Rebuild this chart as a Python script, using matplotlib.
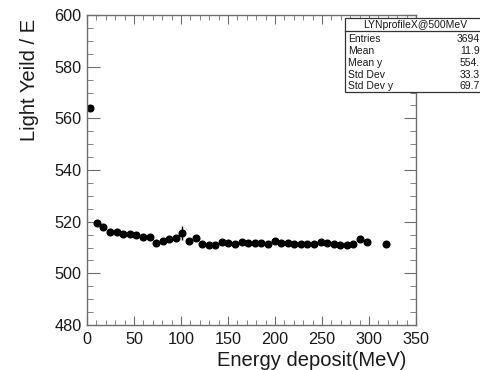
"""
light yield per energy vs deposited energy, profile plot with stats box
"""

import matplotlib

matplotlib.use("Agg")
import matplotlib.pyplot as plt
from matplotlib.patches import Rectangle
from matplotlib.ticker import MultipleLocator

plt.rcParams["font.family"] = ["Liberation Sans", "DejaVu Sans"]

# bin centres (MeV) and mean light yield per bin
energy = [
    3.5, 10.5, 17.5, 24.5, 31.5, 38.5, 45.5, 52.5, 59.5, 66.5,
    73.5, 80.5, 87.5, 94.5, 101.5, 108.5, 115.5, 122.5, 129.5, 136.5,
    143.5, 150.5, 157.5, 164.5, 171.5, 178.5, 185.5, 192.5, 199.5, 206.5,
    213.5, 220.5, 227.5, 234.5, 241.5, 248.5, 255.5, 262.5, 269.5, 276.5,
    283.5, 290.5, 297.5, 318.5,
]
light_yield = [
    563.9, 519.6, 518.1, 516.1, 515.9, 515.1, 515.1, 514.8, 513.9, 514.2,
    511.9, 512.5, 513.3, 513.8, 515.7, 512.6, 513.5, 511.3, 511.0, 511.1,
    512.2, 511.6, 511.4, 512.1, 511.8, 511.8, 511.7, 511.5, 512.4, 511.9,
    511.7, 511.5, 511.3, 511.2, 511.4, 512.1, 511.6, 511.3, 511.0, 510.9,
    511.2, 513.3, 512.2, 511.2,
]
yerr = [
    0.8, 0.4, 0.4, 0.4, 0.4, 0.4, 0.4, 0.4, 0.4, 0.4,
    0.4, 0.4, 0.4, 0.4, 2.8, 0.4, 0.4, 0.4, 0.4, 0.4,
    0.4, 0.4, 0.4, 0.4, 0.4, 0.4, 0.4, 0.4, 0.4, 0.4,
    0.4, 0.4, 0.4, 0.4, 0.4, 0.4, 0.4, 0.4, 0.4, 0.4,
    0.4, 0.5, 0.5, 0.5,
]

stat_title = "LYNprofileX@500MeV"
stat_names = ["Entries", "Mean", "Mean y", "Std Dev", "Std Dev y"]
stat_values = ["3694", "11.9", "554.", "33.3", "69.7"]

W, H = 481, 370


def fx(px):
    return px / W


def fy(py):
    return 1 - py / H


fig = plt.figure(figsize=(W / 100, H / 100), dpi=100)
ax = fig.add_axes([fx(87), fy(325), (416 - 87) / W, (325 - 15) / H])

ax.errorbar(
    energy,
    light_yield,
    yerr=yerr,
    fmt="o",
    color="black",
    markersize=4.8,
    elinewidth=1,
    capsize=0,
)

ax.set_xlim(0, 350)
ax.set_ylim(480, 600)
ax.xaxis.set_major_locator(MultipleLocator(50))
ax.xaxis.set_minor_locator(MultipleLocator(10))
ax.yaxis.set_major_locator(MultipleLocator(20))
ax.yaxis.set_minor_locator(MultipleLocator(5))

frame_col = "#6e6e6e"
for sp in ax.spines.values():
    sp.set_color(frame_col)
    sp.set_linewidth(1)
ax.tick_params(which="both", direction="in", top=True, right=True,
               color=frame_col, labelsize=11.7, labelcolor="#1a1a1a")
ax.tick_params(axis="y", which="major", length=9, pad=4)
ax.tick_params(axis="y", which="minor", length=4.5)
ax.tick_params(axis="x", which="major", length=6.5, pad=5)
ax.tick_params(axis="x", which="minor", length=3.5)

fig.text(fx(30), fy(19), "Light Yeild / E", rotation=90, ha="center",
         va="top", fontsize=14.5, color="#1a1a1a")
fig.text(fx(406), fy(361), "Energy deposit(MeV)", ha="right", va="center",
         fontsize=14.5, color="#1a1a1a")

# stats box
box_l, box_r, box_t, head_b, box_b = 345, 486, 18, 31, 92
fig.patches.append(Rectangle((fx(box_l), fy(box_b)), (box_r - box_l) / W,
                             (box_b - box_t) / H, transform=fig.transFigure,
                             facecolor="white", edgecolor="#333333", lw=0.9))
fig.lines.append(plt.Line2D([fx(box_l), fx(box_r)], [fy(head_b), fy(head_b)],
                            transform=fig.transFigure, color="#333333", lw=0.9))
fig.text(fx(415), fy(24.5), stat_title, ha="center", va="center",
         fontsize=7.5, color="#1a1a1a")
row_y = [38.5, 51.5, 63.5, 75, 86]
for yy, name, val in zip(row_y, stat_names, stat_values):
    fig.text(fx(348), fy(yy), name, ha="left", va="center", fontsize=7.5,
             color="#1a1a1a")
    fig.text(fx(480), fy(yy), val, ha="right", va="center", fontsize=7.5,
             color="#1a1a1a")

fig.savefig("out.png", dpi=100)
